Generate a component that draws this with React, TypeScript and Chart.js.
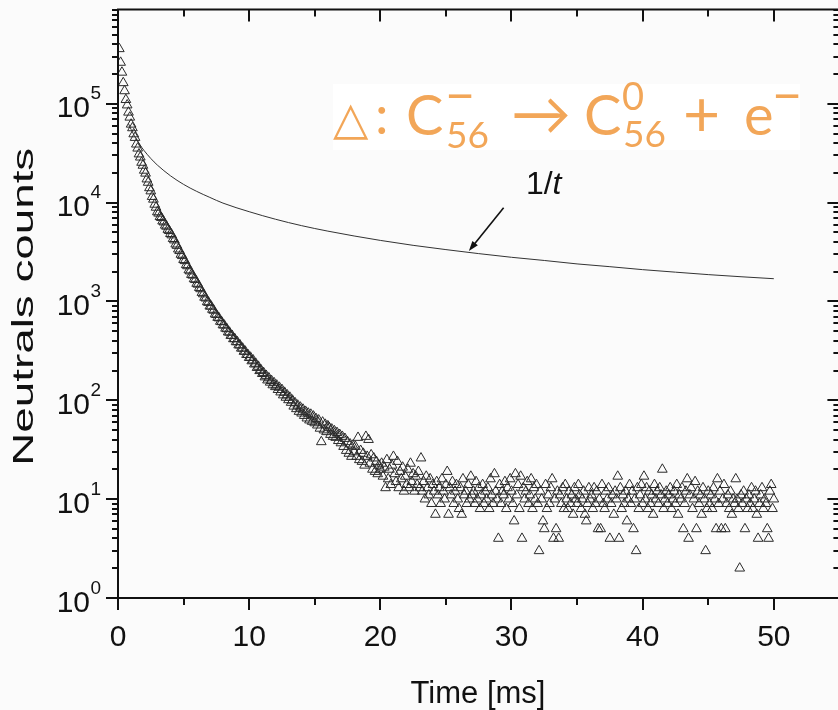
import React, { useEffect, useRef } from "react";
import { Chart, registerables } from "chart.js";

Chart.register(...registerables);

// ---------------- DATA ----------------
const TIME_STEP_MS = 0.1; // channel width; first channel at 0.1 ms

// counts for t = 0.1 ... 10.0 ms
const countsEarly = [
  360000, 262000, 208000, 163000, 135000, 110000, 97000, 82000, 73000, 62000,
  57000, 49500, 45500, 39000, 35500, 31000, 28800, 25500, 23800, 21200,
  19800, 17300, 16000, 14100, 13100, 11500, 10800, 9600, 8950, 8050,
  7800, 7200, 7050, 6500, 6350, 5900, 5750, 5350, 5200, 4850,
  4700, 4320, 4180, 3800, 3680, 3380, 3260, 2990, 2900, 2650,
  2580, 2350, 2290, 2080, 2030, 1870, 1840, 1690, 1660, 1520,
  1490, 1380, 1340, 1230, 1190, 1100, 1080, 990, 975, 895,
  895, 830, 812, 745, 735, 688, 680, 628, 622, 578,
  575, 535, 528, 490, 487, 452, 452, 418, 419, 390,
  390, 362, 362, 336, 336, 312, 313, 290, 290, 270,
];

// counts for t = 10.1 ... 23.0 ms
const countsMid = [
  272, 250, 255, 232, 236, 214, 220, 199, 203, 186,
  190, 172, 178, 160, 168, 152, 158, 143, 150, 137,
  142, 128, 135, 121, 128, 113, 120, 107, 113, 101,
  107, 95, 100, 87, 94, 82, 89, 77, 85, 74,
  81, 70, 77, 66, 74, 63, 72, 61, 69, 59,
  65, 56, 63, 52, 38, 60, 50, 57, 48, 55,
  53, 45, 51, 43, 49, 42, 47, 39, 45, 37,
  43, 34, 41, 31, 38, 29, 36, 27, 35, 30,
  34, 27, 42, 25, 31, 24, 29, 22, 43, 27,
  40, 23, 28, 20, 26, 19, 24, 18, 22, 20,
  23, 17, 21, 13, 25, 16, 20, 14, 22, 27,
  18, 15, 24, 13, 19, 16, 21, 12, 17, 14,
  20, 13, 23, 15, 18, 12, 17, 14, 19, 13,
];

// counts for t = 23.1 ... 50.0 ms
const countsTail = [
  26, 12, 15, 10, 17, 13, 11, 16, 9, 14,
  12, 7, 15, 11, 13, 9, 16, 12, 10, 14,
  19, 7, 13, 11, 15, 9, 12, 14, 10, 8,
  13, 7, 16, 11, 12, 9, 14, 10, 17, 11,
  12, 9, 15, 10, 13, 8, 11, 14, 9, 12,
  10, 13, 8, 16, 11, 9, 18, 12, 10, 4,
  14, 9, 12, 11, 15, 8, 13, 10, 16, 12,
  9, 6, 18, 11, 14, 8, 17, 4, 13, 10,
  12, 15, 9, 11, 16, 8, 13, 10, 14, 9,
  3, 12, 10, 6, 5, 14, 8, 11, 9, 13,
  16, 4, 10, 5, 12, 4, 11, 9, 13, 8,
  14, 10, 8, 12, 9, 11, 7, 13, 10, 9,
  14, 11, 8, 10, 12, 7, 6, 9, 13, 10,
  11, 8, 13, 9, 12, 5, 10, 5, 14, 9,
  8, 12, 10, 13, 4, 9, 11, 7, 12, 10,
  17, 4, 13, 8, 11, 9, 12, 6, 10, 14,
  9, 12, 5, 10, 3, 13, 8, 11, 14, 9,
  17, 10, 13, 8, 12, 9, 11, 7, 14, 10,
  12, 9, 13, 11, 20, 8, 10, 12, 9, 11,
  13, 8, 10, 12, 9, 14, 7, 11, 10, 13,
  5, 9, 12, 16, 4, 11, 13, 8, 10, 15,
  5, 12, 9, 11, 7, 13, 10, 3, 8, 12,
  9, 11, 8, 13, 10, 5, 16, 9, 12, 5,
  10, 14, 5, 9, 11, 8, 12, 7, 10, 9,
  16, 10, 8, 2, 11, 9, 12, 5, 10, 8,
  11, 9, 13, 8, 10, 12, 7, 4, 9, 11,
  13, 8, 10, 9, 5, 4, 12, 14, 8, 10,
];

// 1/t guide curve
const fitTimes = [0.8, 1, 1.5, 2, 2.5, 3, 4, 5, 6, 7, 8, 10, 12, 14, 16, 18, 20, 22.5, 25, 27.5, 30, 32.5, 35, 37.5, 40, 42.5, 45, 47.5, 50];
const fitValues = [63000, 55000, 41500, 33500, 28000, 24000, 18700, 15300, 13000, 11300, 9900, 8100, 6800, 5850, 5150, 4600, 4150, 3700, 3350, 3050, 2800, 2600, 2400, 2250, 2100, 1980, 1870, 1780, 1700];

const xMajorTicks = [0, 10, 20, 30, 40, 50];
const xMinorTicks = [5, 15, 25, 35, 45, 55];
const xTickLabels = ["0", "10", "20", "30", "40", "50"];
const yDecadeExponents = [0, 1, 2, 3, 4, 5];
const yMinorMultipliers = [2, 3, 4, 5, 6, 7, 8, 9];
const xTitle = "Time [ms]";
const yTitle = "Neutrals counts";
const fitLabelPlain = "1/";
const fitLabelItalic = "t";
const fitLabelAnchor = { x: 31.1, y: 12300 };
const arrowTail = { x: 29.4, y: 8900 };
const arrowHead = { x: 26.75, y: 3250 };

const X_MIN = 0;
const X_MAX = 55;
const Y_MIN = 1;
const Y_MAX = 900000;

// ---------------- DRAWING ----------------
const ORANGE = "rgb(242,166,88)";
const AXIS = "#111111";
const SANS = '"Liberation Sans", Arial, sans-serif';
const EQ_FONT = 'Lato, "Open Sans", sans-serif';

const decorPlugin = {
  id: "decor",
  beforeDraw(chart: any) {
    const ctx = chart.ctx;
    ctx.save();
    ctx.fillStyle = "#fbfbfb";
    ctx.fillRect(0, 0, chart.width, chart.height);
    // equation box
    ctx.fillStyle = "#ffffff";
    ctx.fillRect(333, 84, 467, 66);
    ctx.fillStyle = ORANGE;
    ctx.textAlign = "left";
    ctx.textBaseline = "alphabetic";
    const pieces: [string, number, number, number][] = [
      ["△", 333, 134, 46],
      [":", 375, 134, 54],
      ["C", 406, 135, 56],
      ["−", 445, 114, 52],
      ["56", 446, 148, 37],
      ["→", 511, 135, 60],
      ["C", 584, 135, 56],
      ["0", 622, 110, 38],
      ["56", 623, 147, 37],
      ["+", 683, 137, 64],
      ["e", 744, 135, 56],
      ["−", 772, 114, 52],
    ];
    for (const [t, x, b, s] of pieces) {
      ctx.font = `${s}px ${EQ_FONT}`;
      ctx.fillText(t, x, b);
    }
    ctx.restore();
  },
  afterDraw(chart: any) {
    const ctx = chart.ctx;
    const xs = chart.scales.x;
    const ys = chart.scales.y;
    const { left, right, top, bottom } = chart.chartArea;
    ctx.save();
    ctx.strokeStyle = AXIS;
    ctx.fillStyle = AXIS;
    ctx.lineWidth = 2;
    ctx.strokeRect(left, top, right - left, bottom - top);

    ctx.beginPath();
    for (const v of xMajorTicks) {
      const px = Math.round(xs.getPixelForValue(v));
      ctx.moveTo(px, bottom);
      ctx.lineTo(px, bottom + 12);
      ctx.moveTo(px, top);
      ctx.lineTo(px, top + 12);
    }
    for (const v of xMinorTicks) {
      const px = Math.round(xs.getPixelForValue(v));
      ctx.moveTo(px, bottom);
      ctx.lineTo(px, bottom + 7);
      ctx.moveTo(px, top);
      ctx.lineTo(px, top + 7);
    }
    for (const e of yDecadeExponents) {
      const py = Math.round(ys.getPixelForValue(Math.pow(10, e)));
      ctx.moveTo(left - 12, py);
      ctx.lineTo(left, py);
      ctx.moveTo(right, py);
      ctx.lineTo(right - 12, py);
      for (const m of yMinorMultipliers) {
        const val = m * Math.pow(10, e);
        if (val > Y_MAX) continue;
        const pm = Math.round(ys.getPixelForValue(val));
        ctx.moveTo(left - 6, pm);
        ctx.lineTo(left, pm);
        ctx.moveTo(right, pm);
        ctx.lineTo(right - 6, pm);
      }
    }
    ctx.stroke();

    // x tick labels
    ctx.font = `30px ${SANS}`;
    ctx.textAlign = "center";
    ctx.textBaseline = "alphabetic";
    xMajorTicks.forEach((v, i) => {
      ctx.fillText(xTickLabels[i], xs.getPixelForValue(v), bottom + 48);
    });

    // y tick labels 10^n
    for (const e of yDecadeExponents) {
      const py = ys.getPixelForValue(Math.pow(10, e));
      ctx.font = `30px ${SANS}`;
      ctx.textAlign = "right";
      ctx.fillText("10", 90, py + 13.5);
      ctx.font = `19px ${SANS}`;
      ctx.textAlign = "left";
      ctx.fillText(String(e), 90.5, py - 4.5);
    }

    // axis titles
    ctx.font = `31px ${SANS}`;
    ctx.textAlign = "center";
    ctx.fillText(xTitle, (left + 838) / 2, 703);

    ctx.save();
    ctx.translate(33, (top + bottom) / 2 + 3);
    ctx.rotate(-Math.PI / 2);
    ctx.font = `30px ${SANS}`;
    const w = ctx.measureText(yTitle).width;
    ctx.scale(318 / w, 1);
    ctx.textAlign = "center";
    ctx.fillText(yTitle, 0, 0);
    ctx.restore();

    // arrow
    const ax0 = xs.getPixelForValue(arrowTail.x);
    const ay0 = ys.getPixelForValue(arrowTail.y);
    const ax1 = xs.getPixelForValue(arrowHead.x);
    const ay1 = ys.getPixelForValue(arrowHead.y);
    const ang = Math.atan2(ay1 - ay0, ax1 - ax0);
    ctx.lineWidth = 1.6;
    ctx.beginPath();
    ctx.moveTo(ax0, ay0);
    ctx.lineTo(ax1 - 6 * Math.cos(ang), ay1 - 6 * Math.sin(ang));
    ctx.stroke();
    ctx.beginPath();
    ctx.moveTo(ax1, ay1);
    ctx.lineTo(ax1 - 10 * Math.cos(ang) + 3.5 * Math.sin(ang), ay1 - 10 * Math.sin(ang) - 3.5 * Math.cos(ang));
    ctx.lineTo(ax1 - 10 * Math.cos(ang) - 3.5 * Math.sin(ang), ay1 - 10 * Math.sin(ang) + 3.5 * Math.cos(ang));
    ctx.closePath();
    ctx.fill();

    // 1/t label
    const lx = xs.getPixelForValue(fitLabelAnchor.x);
    const ly = ys.getPixelForValue(fitLabelAnchor.y);
    ctx.textAlign = "left";
    ctx.font = `32px ${SANS}`;
    ctx.fillText(fitLabelPlain, lx, ly);
    const pw = ctx.measureText(fitLabelPlain).width;
    ctx.font = `italic 32px ${SANS}`;
    ctx.fillText(fitLabelItalic, lx + pw, ly);

    ctx.restore();
  },
};

export default function App() {
  const ref = useRef<HTMLCanvasElement | null>(null);
  useEffect(() => {
    if (!ref.current) return;
    const counts = [...countsEarly, ...countsMid, ...countsTail];
    const decay = counts.map((c, i) => ({ x: Math.round((i + 1) * TIME_STEP_MS * 10) / 10, y: c }));
    const fit = fitTimes.map((t, i) => ({ x: t, y: fitValues[i] }));
    const chart = new Chart(ref.current, {
      type: "scatter",
      data: {
        datasets: [
          {
            label: "neutrals",
            data: decay,
            showLine: false,
            pointStyle: "triangle",
            pointRadius: 5.6,
            pointBorderWidth: 1,
            borderColor: "#2a2a2a",
            backgroundColor: "rgba(0,0,0,0)",
          },
          {
            label: "1/t",
            data: fit,
            showLine: true,
            pointRadius: 0,
            borderColor: "#333333",
            borderWidth: 1,
            cubicInterpolationMode: "monotone",
            fill: false,
          },
        ],
      },
      options: {
        responsive: false,
        animation: false,
        devicePixelRatio: 1,
        layout: { padding: { left: 118, top: 9.5, right: 4, bottom: 112 } },
        plugins: { legend: { display: false }, tooltip: { enabled: false } },
        events: [],
        scales: {
          x: { type: "linear", min: X_MIN, max: X_MAX, display: false },
          y: { type: "logarithmic", min: Y_MIN, max: Y_MAX, display: false },
        },
      },
      plugins: [decorPlugin],
    } as any);
    return () => chart.destroy();
  }, []);
  return (
    <div style={{ position: "fixed", left: 0, top: 0, width: 838, height: 710, overflow: "hidden", background: "#fbfbfb" }}>
      <canvas ref={ref} width={846} height={710} style={{ width: 846, height: 710, display: "block" }} />
    </div>
  );
}
